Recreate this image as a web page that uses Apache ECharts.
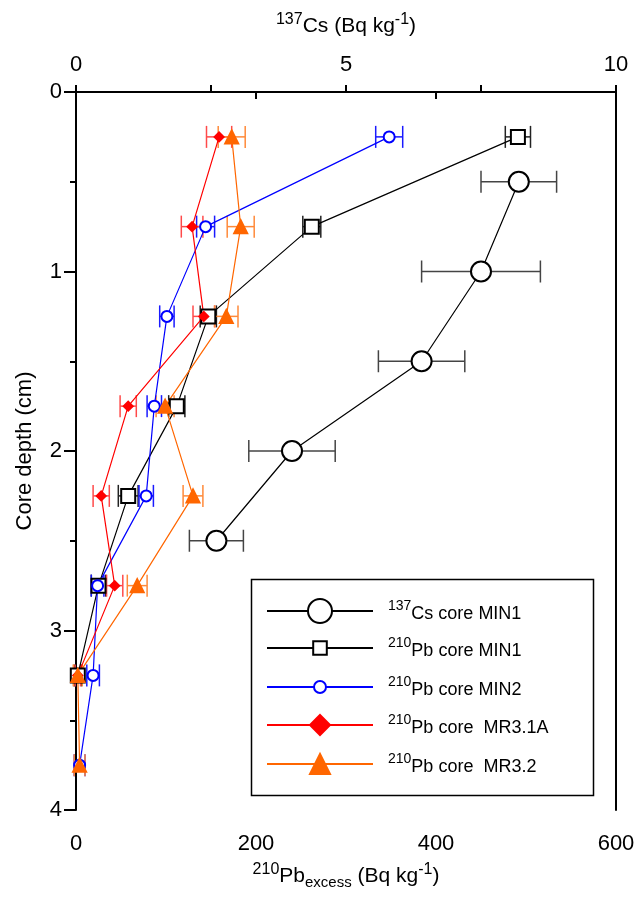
<!DOCTYPE html>
<html>
<head>
<meta charset="utf-8">
<script src="https://cdn.jsdelivr.net/npm/echarts@6/dist/echarts.min.js"></script>
<style>
html, body { margin: 0; padding: 0; background: #fff; }
#chart { width: 640px; height: 909px; }
</style>
</head>
<body>
<div id="chart"></div>
<script>
// depths (cm)
var depthCs = [0.5, 1.0, 1.5, 2.0, 2.5];
var depthPb = [0.25, 0.75, 1.25, 1.75, 2.25, 2.75, 3.25, 3.75];

// 137Cs core MIN1 (top axis, Bq kg-1)
var csMIN1 = [8.2, 7.5, 6.4, 4.0, 2.6];
var csMIN1Err = [0.7, 1.1, 0.8, 0.8, 0.5];

// 210Pb excess (bottom axis, Bq kg-1)
var pbMIN1 = [491, 262, 147, 112, 58, 25, 2];
var pbMIN1Err = [14, 10, 9, 9, 11, 8, 4];
var pbMIN2 = [348, 144, 101, 87, 78, 24, 19, 4];
var pbMIN2Err = [15, 10, 8, 8, 8, 7, 7, 6];
var pbMR31A = [159, 129, 142, 58, 28, 43, 2];
var pbMR31AErr = [14, 12, 12, 9, 9, 9, 3];
var pbMR32 = [173, 183, 167, 99, 130, 68, 2, 4];
var pbMR32Err = [15, 15, 13, 10, 11, 11, 5, 6];

var FONT = '"Liberation Sans", Arial, Helvetica, sans-serif';

function pairs(xs, ys) {
    var out = [];
    for (var i = 0; i < xs.length; i++) out.push([xs[i], ys[i]]);
    return out;
}
function errPairs(xs, errs, ys) {
    var out = [];
    for (var i = 0; i < xs.length; i++) out.push([xs[i] - errs[i], xs[i] + errs[i], ys[i]]);
    return out;
}

function errorSeries(name, data, color, xAxisIndex) {
    return {
        name: name,
        type: 'custom',
        xAxisIndex: xAxisIndex,
        yAxisIndex: 0,
        z: 1,
        silent: true,
        encode: { x: [0, 1], y: 2 },
        data: data,
        renderItem: function (params, api) {
            var lo = api.coord([api.value(0), api.value(2)]);
            var hi = api.coord([api.value(1), api.value(2)]);
            var h = 11;
            var st = { stroke: color, lineWidth: 1.5 };
            return {
                type: 'group',
                children: [
                    { type: 'line', shape: { x1: lo[0], y1: lo[1], x2: hi[0], y2: hi[1] }, style: st },
                    { type: 'line', shape: { x1: lo[0], y1: lo[1] - h, x2: lo[0], y2: lo[1] + h }, style: st },
                    { type: 'line', shape: { x1: hi[0], y1: hi[1] - h, x2: hi[0], y2: hi[1] + h }, style: st }
                ]
            };
        }
    };
}

function lineSeries(name, data, color, symbol, size, xAxisIndex) {
    return {
        name: name,
        type: 'line',
        xAxisIndex: xAxisIndex,
        yAxisIndex: 0,
        z: 3,
        data: data,
        symbol: symbol,
        symbolSize: size,
        showAllSymbol: true,
        lineStyle: { color: color, width: 1.2 },
        itemStyle: { color: color, borderColor: color, borderWidth: 2 },
        emphasis: { disabled: true }
    };
}

var legendRich = {
    sup: { fontSize: 14, fontFamily: FONT, color: '#000', verticalAlign: 'top', lineHeight: 24 },
    t: { fontSize: 18, fontFamily: FONT, color: '#000', lineHeight: 24, padding: [6, 0, 0, 0] }
};

var legendRows = [
    { name: 'Cs MIN1', sup: '137', txt: 'Cs core MIN1', h: 30, cy: 613 },
    { name: 'Pb MIN1', sup: '210', txt: 'Pb core MIN1', h: 17, cy: 651 },
    { name: 'Pb MIN2', sup: '210', txt: 'Pb core MIN2', h: 15, cy: 690 },
    { name: 'Pb MR3.1A', sup: '210', txt: 'Pb core  MR3.1A', h: 25, cy: 728 },
    { name: 'Pb MR3.2', sup: '210', txt: 'Pb core  MR3.2', h: 25, cy: 767 }
];

var legends = legendRows.map(function (r) {
    var rowH = Math.max(r.h, 30);
    return {
        data: [r.name],
        left: 266,
        top: r.cy - rowH / 2,
        padding: 0,
        itemWidth: 106,
        itemHeight: r.h,
        itemGap: 0,
        selectedMode: false,
        formatter: function () { return '{sup|' + r.sup + '}{t|' + r.txt + '}'; },
        textStyle: { rich: legendRich, padding: [0, 0, 0, 10] }
    };
});

var chart = echarts.init(document.getElementById('chart'), null, { renderer: 'canvas' });

var axisLabelStyle = { fontSize: 22, fontFamily: FONT, color: '#000' };
var nameRich = {
    n: { fontSize: 21, fontFamily: FONT, color: '#000', lineHeight: 28 },
    sup: { fontSize: 16, fontFamily: FONT, color: '#000', lineHeight: 28, verticalAlign: 'top' },
    sub: { fontSize: 15, fontFamily: FONT, color: '#000', lineHeight: 28, verticalAlign: 'bottom', padding: [12, 0, 0, 0] }
};

var option = {
    backgroundColor: '#fff',
    animation: false,
    grid: { left: 76, right: 24, top: 92, bottom: 99, containLabel: false },
    graphic: [{
        type: 'rect',
        left: 249, top: 577,
        shape: { width: 342, height: 216 },
        style: { fill: 'none', stroke: '#000', lineWidth: 1.5 },
        z: 0
    }],
    legend: legends,
    xAxis: [{
        type: 'value',
        position: 'bottom',
        min: 0, max: 600, interval: 200,
        name: '{sup|210}{n|Pb}{sub|excess}{n| (Bq kg}{sup|-1}{n|)}',
        nameLocation: 'middle',
        nameGap: 52,
        nameTextStyle: { rich: nameRich },
        axisLine: { show: true, lineStyle: { color: '#000', width: 2 } },
        axisTick: { show: true, length: 7, lineStyle: { color: '#000', width: 2 } },
        axisLabel: Object.assign({ margin: 23 }, axisLabelStyle),
        splitLine: { show: false }
    }, {
        type: 'value',
        position: 'top',
        min: 0, max: 10, interval: 2.5,
        name: '{sup|137}{n|Cs (Bq kg}{sup|-1}{n|)}',
        nameLocation: 'middle',
        nameGap: 52,
        nameTextStyle: { rich: nameRich },
        axisLine: { show: true, lineStyle: { color: '#000', width: 2 } },
        axisTick: { show: true, length: 7, lineStyle: { color: '#000', width: 2 } },
        axisLabel: Object.assign({
            margin: 16,
            formatter: function (v) { return v % 5 === 0 ? String(v) : ''; }
        }, axisLabelStyle),
        splitLine: { show: false }
    }],
    yAxis: [{
        type: 'value',
        position: 'left',
        inverse: true,
        min: 0, max: 4, interval: 1,
        name: 'Core depth (cm)',
        nameLocation: 'middle',
        nameGap: 40,
        nameTextStyle: { fontSize: 22, fontFamily: FONT, color: '#000' },
        axisLine: { show: true, lineStyle: { color: '#000', width: 2 } },
        axisTick: { show: true, length: 12, lineStyle: { color: '#000', width: 2 } },
        axisLabel: Object.assign({ margin: 14 }, axisLabelStyle),
        splitLine: { show: false }
    }, {
        // half-centimetre ticks
        type: 'value',
        position: 'left',
        inverse: true,
        min: 0, max: 4, interval: 0.5,
        axisLine: { show: false },
        axisTick: { show: true, length: 6, lineStyle: { color: '#000', width: 2 } },
        axisLabel: { show: false },
        splitLine: { show: false }
    }, {
        type: 'value',
        position: 'right',
        inverse: true,
        min: 0, max: 4, interval: 1,
        axisLine: { show: true, onZero: false, lineStyle: { color: '#000', width: 2 } },
        axisTick: { show: false },
        axisLabel: { show: false },
        splitLine: { show: false }
    }],
    series: [
        errorSeries('err Cs', errPairs(csMIN1, csMIN1Err, depthCs), '#444', 1),
        errorSeries('err MIN1', errPairs(pbMIN1, pbMIN1Err, depthPb), '#222', 0),
        errorSeries('err MIN2', errPairs(pbMIN2, pbMIN2Err, depthPb), '#1a1aff', 0),
        errorSeries('err MR3.1A', errPairs(pbMR31A, pbMR31AErr, depthPb), '#ff4a4a', 0),
        errorSeries('err MR3.2', errPairs(pbMR32, pbMR32Err, depthPb), '#ff8a3a', 0),
        lineSeries('Cs MIN1', pairs(csMIN1, depthCs), '#000', 'emptyCircle', 20, 1),
        lineSeries('Pb MIN1', pairs(pbMIN1, depthPb), '#000', 'emptyRect', 14, 0),
        lineSeries('Pb MIN2', pairs(pbMIN2, depthPb), '#0000ff', 'emptyCircle', 11, 0),
        lineSeries('Pb MR3.1A', pairs(pbMR31A, depthPb), '#ff0000', 'diamond', 9, 0),
        lineSeries('Pb MR3.2', pairs(pbMR32, depthPb), '#ff6600', 'triangle', 13, 0)
    ]
};

chart.setOption(option);
window.addEventListener('resize', chart.resize);
</script>
</body>
</html>
